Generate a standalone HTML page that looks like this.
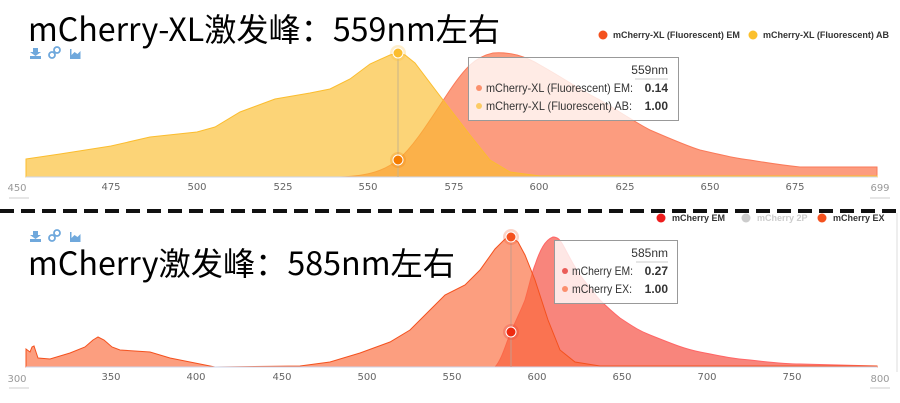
<!DOCTYPE html>
<html><head><meta charset="utf-8"><style>
html,body{margin:0;padding:0;background:#fff;width:900px;height:403px;overflow:hidden}
svg{display:block}
.t{font-family:"Noto Sans CJK SC","Liberation Sans",sans-serif}
.ax{font-family:"DejaVu Sans","Liberation Sans",sans-serif;font-size:10px;fill:#666}
.lg{font-family:"Liberation Sans",sans-serif;font-size:9px;font-weight:bold;fill:#333}
.tt{font-family:"Liberation Sans",sans-serif;font-size:12px;fill:#333}
</style></head><body>
<svg width="900" height="403" viewBox="0 0 900 403">
<!-- TOP CHART -->
<path d="M340,177 C370,176 385,170 398,160 C415,145 430,120 450,90 C465,68 475,57 493,53 C505,52 512,54 517,55 C528,58 535,62 540,65 C570,82 580,90 600,100 C620,112 635,122 650,130 C680,143 690,147 700,150 C730,157 740,159 750,160 C780,165 790,166 800,167 L877,167 L877,177 Z" fill="#fa5a2a" fill-opacity="0.6" stroke="#fa7a5a" stroke-width="1"/>
<path d="M26,159 L60,154 L111,146 L150,137 L197,132 L215,127 L240,112 L275,99 L310,93 L330,89 L350,79 L370,64 L390,55 L398,53 L405,55 L415,63 L440,96 L470,135 L490,160 L510,172 L540,176 L877,176 L877,177 L26,177 Z" fill="#fbbd2e" fill-opacity="0.65" stroke="#fbbd2e" stroke-width="1"/>
<line x1="26" y1="177" x2="877" y2="177" stroke="#ccd6eb"/>
<line x1="398" y1="53" x2="398" y2="177" stroke="#c8b48a" stroke-width="1"/>
<circle cx="398" cy="53" r="8" fill="#fbbd2e" fill-opacity="0.25"/>
<circle cx="398" cy="53" r="5" fill="#fbbd2e" stroke="#fff" stroke-width="1"/>
<circle cx="398" cy="160" r="8" fill="#f57c00" fill-opacity="0.25"/>
<circle cx="398" cy="160" r="5" fill="#f57c00" stroke="#fff" stroke-width="1"/>
<g class="ax" text-anchor="middle">
<text x="17" y="191" fill="#999">450</text><text x="111" y="190">475</text><text x="197" y="190">500</text><text x="283" y="190">525</text><text x="368" y="190">550</text><text x="454" y="190">575</text><text x="539" y="190">600</text><text x="625" y="190">625</text><text x="710" y="190">650</text><text x="795" y="190">675</text><text x="880" y="191" fill="#999">699</text>
</g>
<line x1="9" y1="198" x2="29" y2="198" stroke="#ccc"/><line x1="870" y1="198" x2="890" y2="198" stroke="#ccc"/>
<rect x="468.5" y="57.5" width="210" height="63" fill="#fff" fill-opacity="0.8" stroke="#999" stroke-width="1"/>
<text class="tt" x="668" y="74" text-anchor="end" font-size="10.5">559nm</text>
<line x1="635" y1="79" x2="668" y2="79" stroke="#ccc"/>
<circle cx="479" cy="88" r="3" fill="#fa6a3a" fill-opacity="0.7"/>
<circle cx="479" cy="106" r="3" fill="#fbbd2e" fill-opacity="0.7"/>
<text class="tt" x="486" y="92" textLength="147" lengthAdjust="spacingAndGlyphs">mCherry-XL (Fluorescent) EM:</text>
<text class="tt" x="668" y="92" text-anchor="end" font-weight="bold">0.14</text>
<text class="tt" x="486" y="110" textLength="146" lengthAdjust="spacingAndGlyphs">mCherry-XL (Fluorescent) AB:</text>
<text class="tt" x="668" y="110" text-anchor="end" font-weight="bold">1.00</text>
<circle cx="603" cy="35" r="4.5" fill="#f4511e"/><text class="lg" x="613" y="38">mCherry-XL (Fluorescent) EM</text>
<circle cx="753" cy="35" r="4.5" fill="#fbc02d"/><text class="lg" x="763" y="38">mCherry-XL (Fluorescent) AB</text>
<text class="t" x="28" y="41" font-size="32" fill="#000" textLength="472" lengthAdjust="spacingAndGlyphs">mCherry-XL激发峰：559nm左右</text>
<g fill="#6fa8dc">
<rect x="30" y="56" width="11" height="3"/><path d="M33,48 h5 v4 h3 l-5.5,4 l-5.5,-4 h3 z"/>
<circle cx="52" cy="55" r="3" fill="none" stroke="#6fa8dc" stroke-width="1.8"/><circle cx="57" cy="50" r="3" fill="none" stroke="#6fa8dc" stroke-width="1.8"/>
<path d="M70,59 v-10 h1.5 v6 l3,-3 l3,2 l3,-3 v8 z"/>
</g>
<!-- DASHED -->
<line x1="0" y1="211" x2="900" y2="211" stroke="#111" stroke-width="4" stroke-dasharray="14,7"/>
<line x1="897" y1="213" x2="897" y2="372" stroke="#ddd"/>
<!-- BOTTOM CHART -->
<path d="M495,367 C502,360 507,340 511,332 C517,318 522,308 525,300 C530,283 532,272 535,265 C540,250 545,240 553,237 C558,237 560,240 563,245 C570,258 575,268 580,275 C590,288 595,295 600,300 C610,310 615,314 620,318 C635,328 640,331 650,335 C675,345 685,349 700,352 C725,357 735,359 750,360 C775,363 790,364 800,364 L877,366 L877,367 Z" fill="#f44336" fill-opacity="0.65" stroke="#f66" stroke-width="1"/>
<path d="M26,349 L30,352 L32,347 L34,346 L36,352 L38,358 L50,359 L70,353 L85,347 L93,340 L98,337 L104,340 L112,347 L120,350 L150,352 L170,358 L200,364 L215,367 L300,366 L330,362 L360,353 L390,342 L410,330 L430,310 L445,295 L465,285 L480,270 L495,249 L505,239 L511,237 L518,242 L525,255 L535,280 L548,320 L560,350 L575,362 L600,366 L877,366 L877,367 L26,367 Z" fill="#fa6a3a" fill-opacity="0.65" stroke="#f4511e" stroke-width="1"/>
<line x1="26" y1="367" x2="877" y2="367" stroke="#ccd6eb"/>
<line x1="511" y1="237" x2="511" y2="367" stroke="#c89a8a" stroke-width="1"/>
<circle cx="511" cy="237" r="8" fill="#f4511e" fill-opacity="0.25"/>
<circle cx="511" cy="237" r="5" fill="#f4511e" stroke="#fff" stroke-width="1"/>
<circle cx="511" cy="332" r="8" fill="#e53935" fill-opacity="0.25"/>
<circle cx="511" cy="332" r="5" fill="#ee2a10" stroke="#fff" stroke-width="1"/>
<g class="ax" text-anchor="middle">
<text x="17" y="382" fill="#999">300</text><text x="111" y="380">350</text><text x="196" y="380">400</text><text x="282" y="380">450</text><text x="367" y="380">500</text><text x="452" y="380">550</text><text x="537" y="380">600</text><text x="622" y="380">650</text><text x="707" y="380">700</text><text x="792" y="380">750</text><text x="880" y="382" fill="#999">800</text>
</g>
<line x1="9" y1="388" x2="29" y2="388" stroke="#ccc"/><line x1="870" y1="388" x2="890" y2="388" stroke="#ccc"/>
<rect x="554.5" y="240.5" width="123" height="63" fill="#fff" fill-opacity="0.8" stroke="#999" stroke-width="1"/>
<text class="tt" x="668" y="257" text-anchor="end" font-size="10.5">585nm</text>
<line x1="636" y1="262" x2="668" y2="262" stroke="#ccc"/>
<circle cx="565" cy="271" r="3" fill="#e53935" fill-opacity="0.8"/>
<circle cx="565" cy="289" r="3" fill="#fa6a3a" fill-opacity="0.7"/>
<text class="tt" x="572" y="275" textLength="61" lengthAdjust="spacingAndGlyphs">mCherry EM:</text>
<text class="tt" x="668" y="275" text-anchor="end" font-weight="bold">0.27</text>
<text class="tt" x="572" y="293" textLength="60" lengthAdjust="spacingAndGlyphs">mCherry EX:</text>
<text class="tt" x="668" y="293" text-anchor="end" font-weight="bold">1.00</text>
<circle cx="661" cy="218" r="4.5" fill="#ee1c1c"/><text class="lg" x="672" y="221">mCherry EM</text>
<circle cx="746" cy="218" r="4.5" fill="#ccc"/><text class="lg" x="757" y="221" style="fill:#ccc">mCherry 2P</text>
<circle cx="822" cy="218" r="4.5" fill="#f4511e"/><text class="lg" x="833" y="221">mCherry EX</text>
<text class="t" x="28" y="275" font-size="32" fill="#000" textLength="427" lengthAdjust="spacingAndGlyphs">mCherry激发峰：585nm左右</text>
<g fill="#6fa8dc">
<rect x="30" y="239" width="11" height="3"/><path d="M33,231 h5 v4 h3 l-5.5,4 l-5.5,-4 h3 z"/>
<circle cx="52" cy="238" r="3" fill="none" stroke="#6fa8dc" stroke-width="1.8"/><circle cx="57" cy="233" r="3" fill="none" stroke="#6fa8dc" stroke-width="1.8"/>
<path d="M70,242 v-10 h1.5 v6 l3,-3 l3,2 l3,-3 v8 z"/>
</g>
</svg>
</body></html>
